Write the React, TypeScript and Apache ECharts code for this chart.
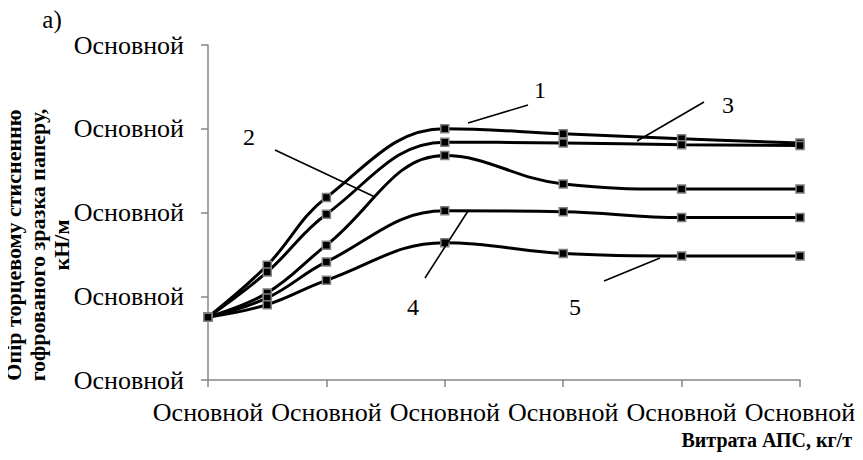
import React, { useEffect, useRef } from "react";
import * as echarts from "echarts";

const xValues = [0, 0.5, 1, 2, 3, 4, 5];
const series1 = [0.75, 1.37, 2.18, 3.0, 2.94, 2.88, 2.83];
const series3 = [0.75, 1.29, 1.98, 2.84, 2.83, 2.81, 2.8];
const series2 = [0.75, 1.04, 1.61, 2.68, 2.34, 2.28, 2.28];
const series4 = [0.75, 0.98, 1.41, 2.02, 2.01, 1.94, 1.94];
const series5 = [0.75, 0.9, 1.19, 1.64, 1.51, 1.48, 1.48];
const tickLabel = "Основной";
const yAxisTitle = ["Опір торцевому стисненню", "гофрованого зразка паперу,", "кН/м"];
const xAxisTitle = "Витрата АПС, кг/т";
const panelLabel = "а)";

const FONT = "'Liberation Serif', 'Times New Roman', serif";

export default function App() {
  const ref = useRef<HTMLDivElement>(null);
  useEffect(() => {
    if (!ref.current) return;
    const chart = echarts.init(ref.current, null, { renderer: "svg" });
    const mk = (name: string, vals: number[]) => ({
      name,
      type: "line",
      smooth: 0.4,
      data: xValues.map((x, i) => [x, vals[i]]),
      symbol: "rect",
      symbolSize: 8,
      lineStyle: { color: "#000", width: 3 },
      itemStyle: { color: "#000", borderColor: "#808080", borderWidth: 1.5 },
      z: 3,
    });
    const annText = (t: string, x: number, y: number) => ({
      type: "text",
      x,
      y,
      style: { text: t, font: `24px ${FONT}`, fill: "#000", textAlign: "center", textVerticalAlign: "middle" },
    });
    const annLine = (x1: number, y1: number, x2: number, y2: number) => ({
      type: "line",
      shape: { x1, y1, x2, y2 },
      style: { stroke: "#000", lineWidth: 1.6 },
      z: 10,
    });
    chart.setOption({
      animation: false,
      backgroundColor: "#fff",
      grid: { left: 208, right: 63, top: 45, bottom: 80 },
      xAxis: {
        type: "value",
        min: 0,
        max: 5,
        interval: 1,
        axisLine: { show: true, lineStyle: { color: "#868686", width: 1.5 } },
        axisTick: { show: true, length: 7, lineStyle: { color: "#868686", width: 1.5 } },
        splitLine: { show: false },
        axisLabel: { formatter: () => tickLabel, fontFamily: FONT, fontSize: 26, color: "#000", margin: 19 },
      },
      yAxis: {
        type: "value",
        min: 0,
        max: 4,
        interval: 1,
        axisLine: { show: true, lineStyle: { color: "#868686", width: 1.5 } },
        axisTick: { show: true, length: 7, lineStyle: { color: "#868686", width: 1.5 } },
        splitLine: { show: false },
        axisLabel: { formatter: () => tickLabel, fontFamily: FONT, fontSize: 26, color: "#000", margin: 24 },
      },
      series: [
        mk("1", series1),
        mk("3", series3),
        mk("2", series2),
        mk("4", series4),
        mk("5", series5),
      ],
      graphic: [
        {
          type: "text",
          x: 37,
          y: 245,
          rotation: Math.PI / 2,
          style: {
            text: yAxisTitle.join("\n"),
            font: `bold 22px ${FONT}`,
            fill: "#000",
            textAlign: "center",
            textVerticalAlign: "middle",
            lineHeight: 24,
          },
        },
        {
          type: "text",
          right: 11,
          top: 430,
          style: { text: xAxisTitle, font: `bold 20px ${FONT}`, fill: "#000" },
        },
        {
          type: "text",
          x: 52,
          y: 19,
          style: { text: panelLabel, font: `25px ${FONT}`, fill: "#000", textAlign: "center", textVerticalAlign: "middle" },
        },
        annText("1", 540, 90),
        annLine(528, 105, 468, 123),
        annText("3", 728, 105),
        annLine(704, 102, 637, 141),
        annText("2", 249, 137),
        annLine(275, 150, 375, 197),
        annText("4", 413, 307),
        annLine(425, 278, 468, 211),
        annText("5", 575, 307),
        annLine(604, 281, 660, 258),
      ],
    });
    return () => chart.dispose();
  }, []);
  return <div ref={ref} style={{ width: 863, height: 460, margin: -8 }} />;
}
